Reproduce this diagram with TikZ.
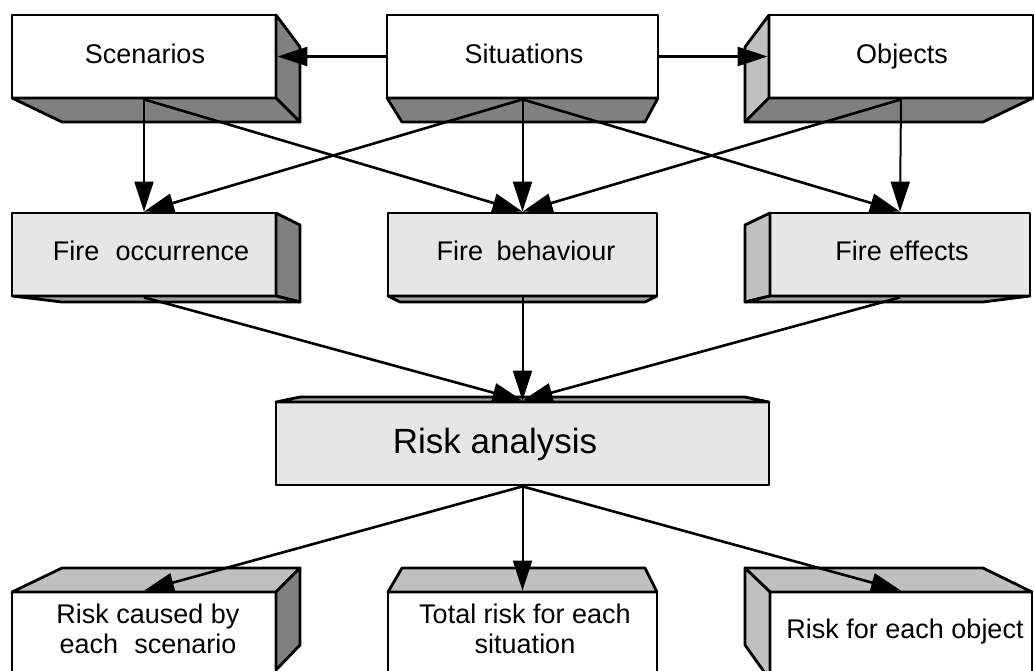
\documentclass[tikz,border=0pt]{standalone}
\usepackage{fontspec}
\setmainfont{Liberation Sans}
\usetikzlibrary{arrows.meta}
\definecolor{darkface}{HTML}{808080}
\definecolor{lightface}{HTML}{C0C0C0}
\definecolor{midfront}{HTML}{E6E6E6}
\definecolor{midface}{HTML}{A0A0A0}
\tikzset{
  face/.style={draw=black, line width=2.8pt, line join=round},
  front/.style={draw=black, line width=2.8pt, inner sep=0pt, line join=round},
  lbl/.style={font=\fontsize{27}{30}\selectfont, align=center, inner sep=0pt, anchor=base},
  biglbl/.style={font=\fontsize{35}{38}\selectfont, inner sep=0pt, anchor=base},
  conn/.style={line width=2.6pt, -{Triangle[length=30pt,width=19pt]}},
  vconn/.style={line width=2pt, -{Triangle[length=30pt,width=19pt]}},
}
\begin{document}
\begin{tikzpicture}[x=1pt,y=-1pt]
\clip (0,0) rectangle (1034,670);
\fill[white] (0,0) rectangle (1034,670);

% ---------- top row ----------
\node[front, fill=white, minimum width=264pt, minimum height=83pt] (scen) at (144,56.5) {};
\node[front, fill=white, minimum width=271pt, minimum height=83pt] (sit) at (522.5,56.5) {};
\node[front, fill=white, minimum width=264pt, minimum height=83pt] (obj) at (901,56.5) {};
% scenarios faces
\draw[face, fill=darkface] (276,15) -- (300,47) -- (300,122) -- (276,98) -- cycle;
\draw[face, fill=darkface] (12,98) -- (62,122) -- (300,122) -- (276,98) -- cycle;
% situations faces
\draw[face, fill=darkface] (387,98) -- (402,122) -- (645,122) -- (658,98) -- cycle;
% objects faces
\draw[face, fill=lightface] (769,15) -- (745,47) -- (745,122) -- (769,98) -- cycle;
\draw[face, fill=darkface] (769,98) -- (745,122) -- (983,122) -- (1033,98) -- cycle;

% ---------- middle row ----------
\node[front, fill=midfront, minimum width=264pt, minimum height=83pt] (occ) at (144,254.5) {};
\node[front, fill=midfront, minimum width=269pt, minimum height=83pt] (beh) at (522.5,254.5) {};
\node[front, fill=midfront, minimum width=260pt, minimum height=83pt] (eff) at (900,254.5) {};
\draw[face, fill=darkface] (276,213) -- (300,225) -- (300,302) -- (276,296) -- cycle;
\draw[face, fill=midface] (12,296) -- (62,302) -- (300,302) -- (276,296) -- cycle;
\draw[face, fill=midface] (388,296) -- (400,302) -- (645,302) -- (657,296) -- cycle;
\draw[face, fill=lightface] (770,213) -- (745,225) -- (745,302) -- (770,296) -- cycle;
\draw[face, fill=midface] (770,296) -- (745,302) -- (983,302) -- (1030,296) -- cycle;

% ---------- risk analysis ----------
\node[front, fill=midfront, minimum width=493pt, minimum height=83pt] (risk) at (522.5,443.5) {};
\draw[face, fill=midface] (276,402) -- (300,397) -- (745,397) -- (769,402) -- cycle;

% ---------- bottom row ----------
\node[front, fill=white, minimum width=264pt, minimum height=100pt] (rc) at (144,642) {};
\node[front, fill=white, minimum width=269pt, minimum height=100pt] (tr) at (522.5,642) {};
\node[front, fill=white, minimum width=262pt, minimum height=100pt] (ro) at (901,642) {};
\draw[face, fill=lightface] (12,592) -- (62,568) -- (300,568) -- (276,592) -- cycle;
\draw[face, fill=darkface] (276,592) -- (300,568) -- (300,645) -- (276,670) -- cycle;
\draw[face, fill=lightface] (388,592) -- (402,568) -- (645,568) -- (657,592) -- cycle;
\draw[face, fill=lightface] (770,592) -- (745,568) -- (983,568) -- (1032,592) -- cycle;
\draw[face, fill=lightface] (745,568) -- (770,592) -- (770,680) -- (745,645) -- cycle;

% ---------- labels ----------
\node[lbl] (scen-t) at (145,63) {Scenarios};
\node[lbl] (sit-t) at (524,63) {Situations};
\node[lbl] (obj-t) at (902,63) {Objects};
\node[lbl] (occ-t) at (151,260) {Fire\hspace{0.6em}occurrence};
\node[lbl] (beh-t) at (526,260) {Fire\hspace{0.5em}behaviour};
\node[lbl] (eff-t) at (902,260) {Fire effects};
\node[biglbl] (risk-t) at (495,453) {Risk analysis};
\node[lbl] (rc-t) at (148,653) {Risk caused by\\each\hspace{0.6em}scenario};
\node[lbl] (tr-t) at (525,653) {Total risk for each\\situation};
\node[lbl] (ro-t) at (905,638) {Risk for each object};

% ---------- connectors ----------
\draw[conn] (sit.west) -- (scen.east);
\draw[conn] (sit.east) -- (obj.west);
\draw[vconn] (scen.south) -- (occ.north);
\draw[conn] (scen.south) -- (beh.north);
\draw[conn] (sit.south) -- (occ.north);
\draw[vconn] (sit.south) -- (beh.north);
\draw[conn] (sit.south) -- (eff.north);
\draw[conn] (obj.south) -- (beh.north);
\draw[vconn] (obj.south) -- (eff.north);
\draw[conn] (occ.south) -- (risk.north);
\draw[vconn] (beh.south) -- (risk.north);
\draw[conn] (eff.south) -- (risk.north);
\draw[conn] (risk.south) -- (rc.north);
\draw[vconn] (risk.south) -- (tr.north);
\draw[conn] (risk.south) -- (ro.north);
\end{tikzpicture}
\end{document}
